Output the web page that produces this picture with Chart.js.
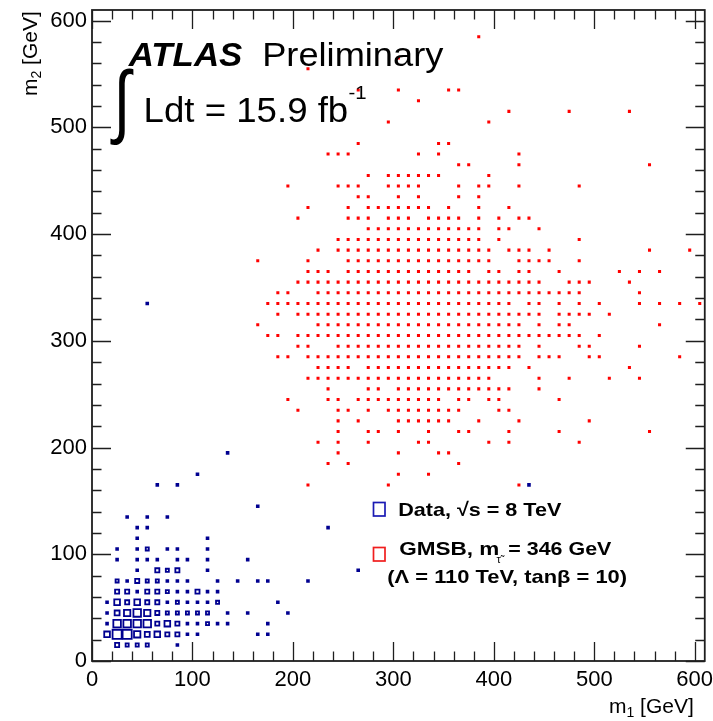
<!DOCTYPE html>
<html>
<head>
<meta charset="utf-8">
<script src="https://cdn.jsdelivr.net/npm/chart.js@4.4.1/dist/chart.umd.min.js"></script>
<style>
  html, body { margin: 0; padding: 0; background: #fff; }
  #wrap { width: 713px; height: 721px; }
</style>
</head>
<body>
<div id="wrap"><canvas id="c" width="713" height="721"></canvas></div>
<script>
// ---------------- data (bin centres in GeV) ----------------
const xTickValues = [0, 100, 200, 300, 400, 500, 600];
const yTickValues = [0, 100, 200, 300, 400, 500, 600];

// GMSB signal: one row per m2 bin, listing the occupied m1 bins
const gmsbM2 = [585, 565, 555, 535, 525, 515, 505, 485, 475, 465, 455, 445, 435, 425, 415, 405, 395, 385, 375, 365,
                355, 345, 335, 325, 315, 305, 295, 285, 275, 265, 255, 245, 235, 225, 215, 205, 195, 185, 175, 165];
const gmsbM1 = [
  [385],
  [305],
  [215],
  [265, 305, 355, 365],
  [325],
  [415, 475, 535],
  [295, 395],
  [265, 345, 355],
  [235, 245, 255, 325, 345, 425],
  [365, 375, 425, 555],
  [275, 295, 305, 315, 325, 335, 345, 395],
  [195, 245, 255, 265, 295, 305, 315, 325, 365, 385, 395, 425, 485],
  [265, 275, 305, 325, 365, 385],
  [215, 255, 275, 285, 295, 305, 315, 325, 335, 355, 385, 415],
  [205, 255, 265, 275, 295, 305, 315, 335, 345, 355, 365, 385, 405, 425, 435],
  [275, 285, 295, 305, 315, 325, 335, 345, 355, 365, 375, 385, 405, 415, 445],
  [245, 255, 265, 275, 285, 295, 305, 315, 325, 335, 345, 355, 365, 375, 385, 405, 485],
  [225, 245, 255, 265, 275, 285, 295, 305, 315, 325, 335, 345, 355, 365, 375, 385, 395, 415, 425, 435, 455, 555, 595],
  [165, 215, 255, 265, 275, 285, 295, 305, 315, 325, 335, 345, 355, 365, 375, 385, 395, 425, 435, 445, 455, 485],
  [215, 225, 235, 255, 265, 275, 285, 295, 305, 315, 325, 335, 345, 355, 365, 375, 395, 405, 425, 435, 465, 525, 545, 565],
  [205, 215, 225, 235, 245, 255, 265, 275, 285, 295, 305, 315, 325, 335, 345, 355, 365, 375, 385, 395, 405, 415, 425, 435, 445, 475, 485, 495, 535],
  [185, 195, 225, 235, 245, 255, 265, 275, 285, 295, 305, 315, 325, 335, 345, 355, 365, 375, 385, 395, 405, 415, 425, 435, 445, 455, 465, 475, 485, 545],
  [175, 185, 195, 205, 215, 225, 235, 245, 255, 265, 275, 285, 295, 305, 315, 325, 335, 345, 355, 365, 375, 385, 395, 405, 415, 435, 445, 465, 485, 505, 545, 565, 585, 605],
  [185, 205, 215, 225, 235, 245, 255, 265, 275, 285, 295, 305, 315, 325, 335, 345, 355, 365, 375, 385, 395, 405, 415, 425, 435, 445, 465, 475, 485, 495, 515],
  [165, 225, 235, 245, 255, 265, 275, 285, 295, 305, 315, 325, 335, 345, 355, 365, 375, 385, 395, 405, 415, 425, 445, 465, 475, 565],
  [175, 185, 205, 215, 225, 235, 245, 255, 265, 275, 285, 295, 305, 315, 325, 335, 345, 355, 365, 375, 385, 395, 405, 415, 425, 435, 445, 455, 465, 475, 485, 505],
  [205, 215, 245, 255, 265, 275, 285, 295, 305, 315, 325, 335, 345, 355, 365, 375, 385, 395, 405, 415, 425, 445, 485, 495, 545],
  [185, 195, 215, 225, 235, 245, 255, 265, 275, 285, 295, 305, 315, 325, 335, 345, 355, 365, 375, 385, 395, 405, 415, 425, 445, 455, 465, 495, 505, 585],
  [225, 235, 245, 255, 275, 285, 295, 305, 315, 325, 335, 345, 355, 365, 375, 385, 395, 405, 415, 435, 535],
  [215, 225, 235, 245, 255, 265, 275, 285, 295, 305, 315, 325, 335, 345, 355, 365, 375, 385, 395, 445, 475, 515, 545],
  [235, 275, 285, 305, 315, 325, 335, 345, 355, 365, 375, 385, 395, 405, 415, 445],
  [195, 235, 245, 265, 275, 285, 295, 305, 315, 325, 335, 345, 365, 375, 395, 405, 465],
  [205, 245, 255, 275, 295, 305, 315, 325, 335, 345, 355, 365, 405, 415],
  [245, 265, 305, 315, 325, 335, 345, 355, 385, 425, 495],
  [245, 275, 285, 305, 335, 365, 375, 415, 465, 555],
  [225, 245, 275, 325, 335, 395, 415, 485],
  [245, 305, 345, 355],
  [235, 255, 365],
  [305, 335],
  [215, 295, 425]
];

// Data (sqrt(s) = 8 TeV): bin centres and event counts
const dataM1 = [25, 35, 45, 55, 85,
                15, 25, 35, 45, 55, 65, 75, 85, 95, 105, 165, 175,
                15, 25, 35, 45, 55, 65, 75, 85, 95, 105, 115, 125, 135, 175,
                15, 25, 35, 45, 55, 65, 75, 85, 95, 105, 115, 135, 155, 195,
                15, 25, 35, 45, 55, 65, 75, 85, 95, 105, 115, 125, 185,
                25, 35, 45, 55, 65, 75, 85, 95, 105, 115, 125,
                25, 35, 45, 55, 65, 75, 85, 95, 125, 145, 165, 175, 215,
                45, 65, 75, 85, 115, 265,
                25, 45, 55, 65, 85, 95, 115, 155,
                25, 45, 55, 75, 85, 115,
                45, 115,
                45, 55, 235,
                35, 55, 75,
                165,
                65, 85, 435,
                105,
                135,
                55];
const dataM2 = [15, 15, 15, 15, 15,
                25, 25, 25, 25, 25, 25, 25, 25, 25, 25, 25, 25,
                35, 35, 35, 35, 35, 35, 35, 35, 35, 35, 35, 35, 35, 35,
                45, 45, 45, 45, 45, 45, 45, 45, 45, 45, 45, 45, 45, 45,
                55, 55, 55, 55, 55, 55, 55, 55, 55, 55, 55, 55, 55,
                65, 65, 65, 65, 65, 65, 65, 65, 65, 65, 65,
                75, 75, 75, 75, 75, 75, 75, 75, 75, 75, 75, 75, 75,
                85, 85, 85, 85, 85, 85,
                95, 95, 95, 95, 95, 95, 95, 95,
                105, 105, 105, 105, 105, 105,
                115, 115,
                125, 125, 125,
                135, 135, 135,
                145,
                165, 165, 165,
                175,
                195,
                335];
const dataN  = [3, 2, 2, 2, 1,
                5, 11, 11, 6, 4, 5, 3, 3, 1, 1, 1, 1,
                1, 8, 8, 8, 8, 3, 5, 3, 1, 1, 2, 1, 1, 1,
                1, 4, 6, 8, 6, 3, 2, 2, 2, 2, 2, 1, 1, 1,
                1, 5, 3, 5, 3, 3, 1, 2, 1, 1, 1, 2, 1,
                3, 3, 1, 3, 3, 2, 1, 1, 3, 1, 1,
                2, 1, 3, 2, 2, 1, 1, 1, 1, 1, 1, 1, 1,
                1, 3, 2, 3, 1, 1,
                1, 1, 1, 1, 1, 1, 1, 1,
                1, 1, 2, 1, 1, 1,
                1, 1,
                1, 1, 1,
                1, 1, 1,
                1,
                1, 1, 1,
                1,
                1,
                1];

// ---------------- build datasets ----------------
const gmsbPoints = [];
gmsbM2.forEach((m2, i) => gmsbM1[i].forEach(m1 => gmsbPoints.push({ x: m1, y: m2 })));
const dataPoints = dataM1.map((m1, i) => ({ x: m1, y: dataM2[i], n: dataN[i] }));
const nMax = Math.max(...dataN);
const BOX_LW = 1.8;
function boxRadius(n) {
  const outer = 10.5 * Math.sqrt(n / nMax) + 0.4;   // box area proportional to content
  const side = Math.max(1.8, outer - BOX_LW);
  return side / Math.SQRT2;                          // Chart.js 'rect' side = r*sqrt(2)
}

const FONT = "'Liberation Sans', Arial, Helvetica, sans-serif";

function fitText(ctx, txt, x0, x1, base, font) {
  ctx.font = font;
  const m = ctx.measureText(txt);
  const w = m.actualBoundingBoxRight + m.actualBoundingBoxLeft;
  const sx = (x1 - x0) / w;
  ctx.save();
  ctx.translate(x0 + sx * m.actualBoundingBoxLeft, base);
  ctx.scale(sx, 1);
  ctx.textAlign = 'left';
  ctx.textBaseline = 'alphabetic';
  ctx.fillText(txt, 0, 0);
  ctx.restore();
}
function fitBox(ctx, txt, x0, x1, y0, y1, font) {
  ctx.font = font;
  const m = ctx.measureText(txt);
  const w = m.actualBoundingBoxRight + m.actualBoundingBoxLeft;
  const h = m.actualBoundingBoxAscent + m.actualBoundingBoxDescent;
  const sx = (x1 - x0) / w, sy = (y1 - y0) / h;
  ctx.save();
  ctx.translate(x0 + sx * m.actualBoundingBoxLeft, y0 + sy * m.actualBoundingBoxAscent);
  ctx.scale(sx, sy);
  ctx.textAlign = 'left';
  ctx.textBaseline = 'alphabetic';
  ctx.fillText(txt, 0, 0);
  ctx.restore();
}

const framePlugin = {
  id: 'rootFrame',
  afterDatasetsDraw(chart) {
    const { ctx, chartArea: a, scales: { x, y } } = chart;
    ctx.save();
    ctx.strokeStyle = '#1e1e1e';
    ctx.lineWidth = 1.3;
    ctx.beginPath();
    for (let v = 0; v <= 600; v += 20) {
      const len = v % 100 === 0 ? 19 : 9.5;
      const px = Math.round(x.getPixelForValue(v)) + 0.5;
      ctx.moveTo(px, a.bottom); ctx.lineTo(px, a.bottom - len);
      ctx.moveTo(px, a.top); ctx.lineTo(px, a.top + len);
      const py = Math.round(y.getPixelForValue(v)) + 0.5;
      ctx.moveTo(a.left, py); ctx.lineTo(a.left + len, py);
      ctx.moveTo(a.right, py); ctx.lineTo(a.right - len, py);
    }
    ctx.stroke();
    ctx.lineWidth = 1.8;
    ctx.strokeRect(a.left, a.top, a.right - a.left, a.bottom - a.top);
    ctx.restore();
  },
  afterDraw(chart) {
    const ctx = chart.ctx;
    ctx.save();
    ctx.fillStyle = '#000';
    // ATLAS Preliminary
    fitText(ctx, 'ATLAS', 127.7, 242.7, 65.5, `italic bold 34px ${FONT}`);
    fitText(ctx, 'Preliminary', 264.3, 443.3, 65.5, `34px ${FONT}`);
    // integral luminosity
    fitBox(ctx, '\u222B', 109.3, 133.3, 68.3, 145, `80px ${FONT}`);
    fitText(ctx, 'Ldt = 15.9 fb', 145.7, 346.7, 121.7, `35px ${FONT}`);
    fitText(ctx, '-1', 348.5, 366, 99, `19px ${FONT}`);

    // axis titles
    ctx.font = `21px ${FONT}`;
    ctx.textBaseline = 'alphabetic';
    ctx.textAlign = 'left';
    // x title: m_1 [GeV]
    let xx = 609;
    ctx.fillText('m', xx, 713); xx += ctx.measureText('m').width;
    ctx.font = `14px ${FONT}`;
    ctx.fillText('1', xx, 717); xx += ctx.measureText('1').width;
    ctx.font = `21px ${FONT}`;
    ctx.fillText(' [GeV]', xx, 713);
    // y title: m_2 [GeV], rotated
    ctx.save();
    ctx.translate(37, 96);
    ctx.rotate(-Math.PI / 2);
    let yy = 0;
    ctx.fillText('m', yy, 0); yy += ctx.measureText('m').width;
    ctx.font = `14px ${FONT}`;
    ctx.fillText('2', yy, 4); yy += ctx.measureText('2').width;
    ctx.font = `21px ${FONT}`;
    ctx.fillText(' [GeV]', yy, 0);
    ctx.restore();

    // legend
    ctx.lineWidth = 1.7;
    ctx.strokeStyle = '#1a1ab4';
    ctx.strokeRect(373.5, 502.5, 11.5, 13.5);
    ctx.strokeStyle = '#f01e1e';
    ctx.strokeRect(373.5, 547.5, 11.5, 13.5);
    ctx.fillStyle = '#000';
    fitText(ctx, 'Data, \u221As = 8 TeV', 399.3, 561.7, 516.3, `bold 19px ${FONT}`);
    fitText(ctx, 'GMSB, m', 399.3, 498.3, 555.3, `bold 19px ${FONT}`);
    ctx.font = `11px ${FONT}`;
    ctx.textAlign = 'left';
    ctx.fillText('\u03C4\u0303', 496.5, 563);
    fitText(ctx, '= 346 GeV', 508.3, 611.7, 555.3, `bold 19px ${FONT}`);
    fitText(ctx, '(\u039B = 110 TeV, tan\u03B2 = 10)', 387.3, 626.7, 583, `bold 19px ${FONT}`);
    ctx.restore();
  }
};

new Chart(document.getElementById('c').getContext('2d'), {
  type: 'scatter',
  data: {
    datasets: [
      {
        label: 'GMSB, m = 346 GeV',
        data: gmsbPoints,
        pointStyle: 'rect',
        pointRadius: 2.15,
        backgroundColor: '#ff0000',
        borderWidth: 0,
        order: 2
      },
      {
        label: 'Data, \u221As = 8 TeV',
        data: dataPoints,
        pointStyle: 'rect',
        pointRadius: (c) => boxRadius(c.raw ? c.raw.n : 1),
        backgroundColor: 'rgba(0,0,0,0)',
        borderColor: '#000090',
        borderWidth: BOX_LW,
        order: 1
      }
    ]
  },
  options: {
    responsive: false,
    animation: false,
    devicePixelRatio: 1,
    events: [],
    layout: { padding: { left: 0, top: 10, right: 6.5, bottom: 0 } },
    plugins: { legend: { display: false }, tooltip: { enabled: false } },
    scales: {
      x: {
        type: 'linear', min: 0, max: 610,
        grid: { display: false, drawTicks: false },
        border: { display: false },
        ticks: { font: { family: FONT, size: 22 }, color: '#000', padding: 6, maxRotation: 0, autoSkip: false },
        afterBuildTicks: (s) => { s.ticks = xTickValues.map(v => ({ value: v })); },
        afterFit: (s) => { s.height = 60; s.paddingLeft = 0; s.paddingRight = 0; s.paddingTop = 0; s.paddingBottom = 0; }
      },
      y: {
        type: 'linear', min: 0, max: 610,
        grid: { display: false, drawTicks: false },
        border: { display: false },
        ticks: { font: { family: FONT, size: 22 }, color: '#000', padding: 5, autoSkip: false },
        afterBuildTicks: (s) => { s.ticks = yTickValues.map(v => ({ value: v })); },
        afterFit: (s) => { s.width = 92; s.paddingLeft = 0; s.paddingRight = 0; s.paddingTop = 0; s.paddingBottom = 0; }
      }
    }
  },
  plugins: [framePlugin]
});
</script>
</body>
</html>
